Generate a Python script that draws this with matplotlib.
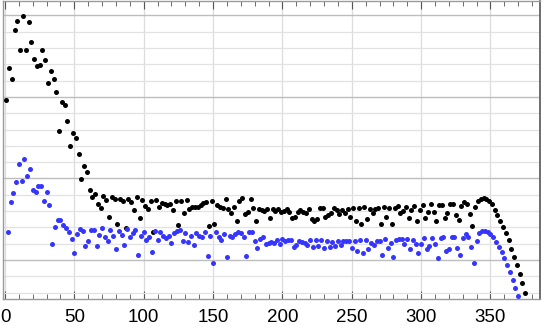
import matplotlib
matplotlib.use("Agg")
import matplotlib.pyplot as plt
from matplotlib.ticker import MultipleLocator

# black series: x = 1, 3, 5, ...
black_x = list(range(1, 377, 2))
black_y = [
    97.9, 117.5, 110.8, 141.2, 146.3, 128.7, 149.8, 128.7, 145.9, 133.5,
    123.0, 119.1, 119.4, 128.9, 122.8, 108.7, 115.7, 111.1, 103.0, 78.9,
    96.9, 94.8, 85.4, 69.9, 78.0, 74.5, 65.0, 49.7, 57.6, 53.8,
    42.9, 38.6, 40.5, 34.3, 32.1, 39.0, 37.1, 26.1, 38.5, 37.4,
    22.3, 37.4, 36.2, 19.8, 37.3, 35.7, 30.7, 38.4, 25.7, 36.5,
    33.1, 31.0, 36.3, 17.0, 37.0, 32.7, 34.9, 34.2, 34.0, 34.1,
    30.5, 35.9, 21.3, 36.2, 29.0, 36.8, 31.3, 32.7, 32.5, 32.7,
    33.7, 34.8, 35.4, 20.8, 36.2, 22.1, 33.7, 32.7, 32.1, 37.2,
    31.3, 28.8, 32.7, 24.1, 36.2, 37.8, 28.4, 29.6, 37.4, 31.7,
    24.1, 31.3, 30.5, 30.2, 31.1, 25.9, 31.1, 30.2, 31.1, 29.4,
    30.2, 31.3, 29.4, 25.6, 26.2, 29.4, 30.7, 29.6, 28.6, 31.1,
    25.1, 23.9, 25.1, 31.7, 32.1, 26.5, 27.6, 29.0, 31.7, 30.7,
    28.0, 30.7, 28.6, 31.1, 26.5, 31.7, 24.1, 31.7, 22.1, 32.7,
    24.9, 31.1, 28.6, 31.1, 31.7, 22.1, 32.7, 26.5, 31.7, 22.1,
    31.7, 33.1, 28.6, 30.2, 32.7, 25.6, 30.7, 33.1, 23.9, 30.7,
    33.7, 25.6, 29.6, 34.1, 29.6, 23.9, 33.5, 33.5, 25.6, 28.6,
    34.3, 34.3, 27.6, 24.5, 33.1, 35.7, 34.1, 28.2, 20.8, 32.3,
    36.4, 37.4, 37.8, 37.2, 36.2, 34.1, 30.7, 27.6, 23.9, 20.4,
    16.4, 12.1, 6.9, 2.0, -3.1, -8.6, -14.1, -20.2,
]

# blue series: x = 2, 4, 6, ...
blue_x = list(range(2, 372, 2))
blue_y = [
    17.2, 35.6, 40.9, 47.8, 58.7, 48.6, 61.9, 51.3, 55.6, 42.9,
    41.9, 45.2, 45.2, 36.2, 41.5, 33.5, 9.6, 20.0, 24.5, 24.3,
    21.5, 19.4, 17.3, 13.1, 4.1, 15.9, 19.0, 17.8, 8.8, 11.5,
    18.4, 18.4, 8.4, 15.5, 19.4, 14.3, 11.6, 18.6, 14.9, 6.7,
    17.8, 15.5, 9.0, 18.8, 14.1, 16.6, 18.4, 2.9, 14.7, 17.2,
    12.3, 14.1, 4.9, 17.8, 12.3, 17.2, 14.7, 13.5, 14.7, 10.4,
    16.6, 17.8, 18.4, 11.6, 16.6, 11.0, 14.7, 9.2, 16.6, 14.7,
    14.1, 17.2, 2.5, 14.7, -1.8, 17.2, 14.1, 12.3, 15.9, 1.8,
    14.7, 14.1, 15.9, 17.2, 16.6, 14.1, 2.5, 17.2, 17.2, 11.6,
    7.4, 12.9, 14.1, 9.8, 10.4, 11.2, 10.6, 12.3, 9.6, 12.7,
    11.8, 12.3, 12.3, 8.2, 9.2, 11.6, 10.9, 10.6, 9.2, 12.3,
    8.2, 12.3, 8.8, 12.3, 7.5, 11.8, 8.2, 11.2, 8.6, 11.8,
    9.2, 11.6, 11.8, 11.8, 7.5, 11.8, 5.7, 12.3, 4.1, 12.3,
    6.6, 10.6, 9.2, 11.8, 11.8, 3.1, 12.7, 7.2, 10.2, 1.7,
    12.3, 12.7, 12.7, 9.6, 12.7, 6.6, 12.3, 9.6, 4.1, 9.6,
    13.3, 6.6, 8.6, 13.7, 9.6, 1.4, 13.3, 13.9, 5.5, 6.9,
    13.9, 13.9, 7.5, 3.1, 13.3, 15.9, 13.9, 8.2, -1.7, 11.8,
    16.7, 18.0, 18.0, 17.2, 15.9, 13.9, 11.2, 8.0, 4.7, 1.0,
    -3.1, -7.4, -12.1, -17.0, -22.1,
]

x_ticks = [0, 50, 100, 150, 200, 250, 300, 350]

plt.rcParams['font.family'] = ['Liberation Sans', 'DejaVu Sans']

fig = plt.figure(figsize=(5.45, 3.28), dpi=100)
ax = fig.add_axes([0.0046, 0.0884, 0.9862, 0.9086])

ax.plot(black_x, black_y, linestyle='none', marker='o', ms=3.6, mew=0,
        color='#000000', zorder=3, clip_on=True)
ax.plot(blue_x, blue_y, linestyle='none', marker='o', ms=3.6, mew=0,
        color='#3535ff', zorder=3, clip_on=True)

ax.set_xlim(-1.8, 385.7)
ax.set_ylim(-23.9, 158.8)

ax.set_xticks(x_ticks)
ax.set_xticklabels([str(t) for t in x_ticks])
ax.xaxis.set_minor_locator(MultipleLocator(10))
ax.set_yticks([0, 50, 100, 150])
ax.yaxis.set_minor_locator(MultipleLocator(10))

ax.tick_params(axis='x', which='both', direction='in', top=True, bottom=True,
               colors='#555555', labelcolor='#000000', labelsize=13.5, pad=7)
ax.tick_params(axis='x', which='major', length=6, width=0.8)
ax.tick_params(axis='x', which='minor', length=3.5, width=0.6)
ax.tick_params(axis='y', which='both', left=False, right=False,
               labelleft=False, labelright=False)

ax.grid(True, axis='x', which='major', color='#dcdcdc', lw=0.9, zorder=0)
ax.grid(True, axis='y', which='major', color='#bdbdbd', lw=1.0, zorder=0)
ax.grid(True, axis='y', which='minor', color='#e2e2e2', lw=0.9, zorder=0)
ax.set_axisbelow(True)

for side in ['left', 'top', 'bottom']:
    ax.spines[side].set_color('#9a9a9a')
    ax.spines[side].set_linewidth(1.0)
ax.spines['right'].set_color('#555555')
ax.spines['right'].set_linewidth(1.2)

fig.savefig('out.png', dpi=100)
